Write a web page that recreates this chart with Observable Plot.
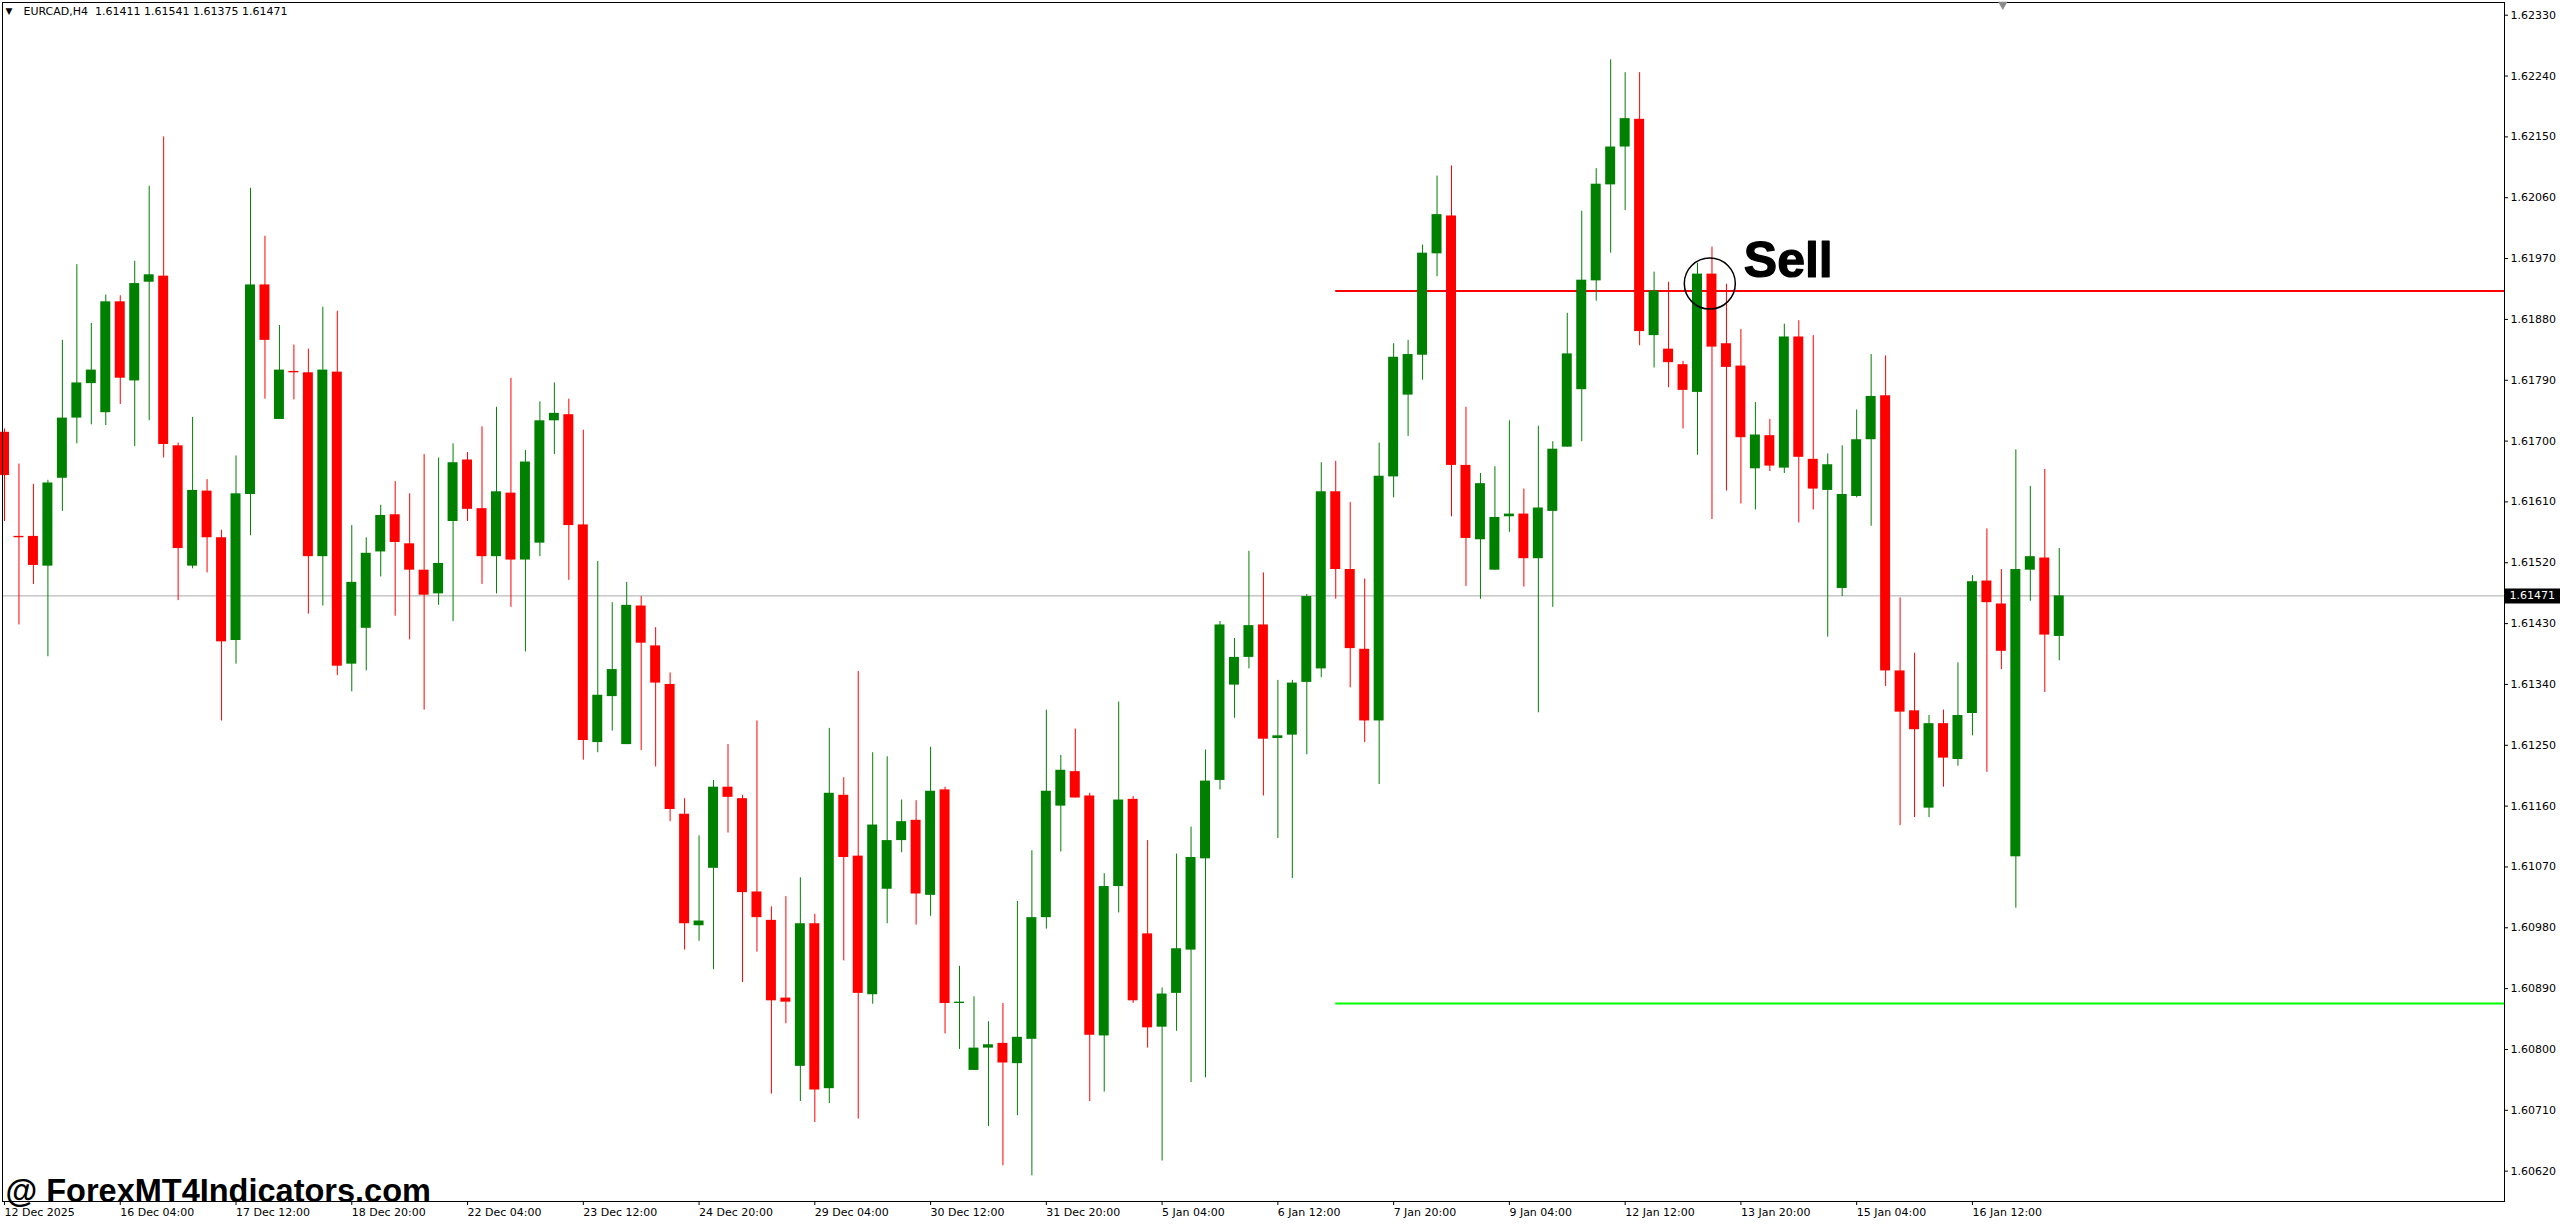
<!DOCTYPE html>
<html>
<head>
<meta charset="utf-8">
<script src="https://cdn.jsdelivr.net/npm/d3@7"></script>
<script src="https://cdn.jsdelivr.net/npm/@observablehq/plot@0.6"></script>
<style>
  html, body { margin: 0; padding: 0; background: #ffffff; }
  #chart svg { display: block; }
</style>
</head>
<body>
<div id="chart"></div>
<script>
// ---------- data ----------
const opens = [
  1.61713,1.61559,1.61559,1.61515,1.61645,1.61734,1.61785,1.61742,1.61906,1.61789,
  1.61935,1.61944,1.61693,1.61515,1.61626,1.61557,1.61405,1.61621,1.61931,1.61732,
  1.61803,1.61801,1.61529,1.61802,1.61370,1.61423,1.61536,1.61591,1.61548,1.61509,
  1.61474,1.61581,1.61672,1.61600,1.61529,1.61623,1.61524,1.61549,1.61730,1.61739,
  1.61576,1.61254,1.61322,1.61251,1.61456,1.61397,1.61340,1.61148,1.60983,1.61068,
  1.61188,1.61171,1.61033,1.60991,1.60876,1.60775,1.60986,1.60742,1.61176,1.61086,
  1.60881,1.61037,1.61109,1.61139,1.61028,1.61184,1.60868,1.60769,1.60802,1.60809,
  1.60779,1.60815,1.60995,1.61160,1.61211,1.61175,1.60820,1.61041,1.61170,1.60971,
  1.60833,1.60883,1.60947,1.61082,1.61198,1.61339,1.61380,1.61428,1.61260,1.61265,
  1.61343,1.61363,1.61625,1.61510,1.61392,1.61286,1.61647,1.61768,1.61827,1.61977,
  1.62033,1.61664,1.61554,1.61509,1.61588,1.61592,1.61526,1.61596,1.61691,1.61776,
  1.61937,1.62079,1.62135,1.62176,1.61856,1.61836,1.61813,1.61772,1.61947,1.61844,
  1.61811,1.61659,1.61708,1.61660,1.61854,1.61673,1.61627,1.61482,1.61618,1.61702,
  1.61767,1.61360,1.61301,1.61157,1.61282,1.61229,1.61297,1.61493,1.61459,1.61085,
  1.61509,1.61527,1.61411
];
const highs = [
  1.61718,1.61666,1.61636,1.61642,1.61849,1.61961,1.61874,1.61916,1.61915,1.61966,
  1.62077,1.62150,1.61697,1.61735,1.61643,1.61568,1.61678,1.62074,1.62003,1.61871,
  1.61842,1.61836,1.61898,1.61892,1.61575,1.61557,1.61605,1.61640,1.61622,1.61680,
  1.61675,1.61696,1.61683,1.61721,1.61750,1.61793,1.61686,1.61758,1.61786,1.61762,
  1.61716,1.61522,1.61461,1.61491,1.61470,1.61424,1.61357,1.61171,1.61116,1.61198,
  1.61251,1.61176,1.61286,1.61011,1.61026,1.61054,1.61000,1.61275,1.61202,1.61359,
  1.61239,1.61233,1.61169,1.61168,1.61247,1.61188,1.60923,1.60878,1.60841,1.60868,
  1.61019,1.61094,1.61302,1.61235,1.61274,1.61179,1.61060,1.61314,1.61174,1.61109,
  1.60891,1.61089,1.61129,1.61243,1.61433,1.61408,1.61537,1.61505,1.61346,1.61346,
  1.61473,1.61668,1.61670,1.61609,1.61496,1.61697,1.61844,1.61849,1.61990,1.62092,
  1.62107,1.61750,1.61652,1.61662,1.61730,1.61629,1.61722,1.61699,1.61889,1.62040,
  1.62103,1.62264,1.62245,1.62245,1.61950,1.61935,1.61818,1.61963,1.61987,1.61932,
  1.61865,1.61757,1.61732,1.61873,1.61878,1.61856,1.61681,1.61693,1.61746,1.61828,
  1.61826,1.61468,1.61386,1.61294,1.61302,1.61372,1.61501,1.61570,1.61510,1.61687,
  1.61633,1.61658,1.61541
];
const lows = [
  1.61581,1.61428,1.61488,1.61381,1.61596,1.61696,1.61724,1.61723,1.61754,1.61692,
  1.61730,1.61675,1.61464,1.61511,1.61505,1.61286,1.61370,1.61560,1.61762,1.61732,
  1.61761,1.61444,1.61456,1.61353,1.61329,1.61360,1.61499,1.61441,1.61406,1.61302,
  1.61457,1.61433,1.61581,1.61488,1.61474,1.61454,1.61388,1.61529,1.61680,1.61494,
  1.61228,1.61239,1.61271,1.61251,1.61242,1.61218,1.61137,1.60947,1.60960,1.60918,
  1.61120,1.60899,1.60944,1.60734,1.60838,1.60723,1.60692,1.60720,1.60931,1.60697,
  1.60867,1.60986,1.61091,1.60984,1.60997,1.60823,1.60800,1.60769,1.60686,1.60628,
  1.60702,1.60613,1.60978,1.61092,1.61172,1.60723,1.60737,1.61002,1.60868,1.60802,
  1.60635,1.60827,1.60751,1.60758,1.61184,1.61290,1.61363,1.61175,1.61112,1.61053,
  1.61236,1.61350,1.61466,1.61335,1.61254,1.61192,1.61616,1.61707,1.61790,1.61943,
  1.61588,1.61485,1.61466,1.61509,1.61565,1.61484,1.61298,1.61454,1.61691,1.61699,
  1.61907,1.61978,1.62041,1.61841,1.61808,1.61779,1.61718,1.61679,1.61584,1.61626,
  1.61607,1.61598,1.61655,1.61652,1.61579,1.61598,1.61410,1.61470,1.61616,1.61574,
  1.61337,1.61131,1.61143,1.61143,1.61188,1.61219,1.61264,1.61210,1.61362,1.61009,
  1.61463,1.61328,1.61375
];
const closes = [
  1.61649,1.61557,1.61516,1.61638,1.61734,1.61786,1.61805,1.61906,1.61793,1.61933,
  1.61946,1.61695,1.61541,1.61627,1.61557,1.61403,1.61622,1.61931,1.61849,1.61805,
  1.61801,1.61529,1.61805,1.61367,1.61491,1.61534,1.61590,1.61550,1.61509,1.61472,
  1.61519,1.61668,1.61599,1.61529,1.61625,1.61524,1.61669,1.61730,1.61741,1.61575,
  1.61257,1.61324,1.61362,1.61457,1.61401,1.61342,1.61155,1.60986,1.60990,1.61188,
  1.61173,1.61032,1.60995,1.60872,1.60870,1.60986,1.60740,1.61179,1.61084,1.60883,
  1.61132,1.61109,1.61137,1.61030,1.61182,1.60868,1.60870,1.60802,1.60807,1.60780,
  1.60818,1.60995,1.61182,1.61213,1.61172,1.60821,1.61041,1.61169,1.60872,1.60832,
  1.60882,1.60949,1.61084,1.61197,1.61428,1.61380,1.61427,1.61259,1.61264,1.61342,
  1.61470,1.61625,1.61510,1.61393,1.61286,1.61648,1.61824,1.61828,1.61978,1.62035,
  1.61664,1.61556,1.61637,1.61587,1.61592,1.61526,1.61601,1.61688,1.61829,1.61938,
  1.62080,1.62135,1.62177,1.61862,1.61922,1.61816,1.61775,1.61947,1.61839,1.61809,
  1.61705,1.61709,1.61663,1.61854,1.61676,1.61629,1.61665,1.61621,1.61702,1.61766,
  1.61360,1.61299,1.61273,1.61282,1.61231,1.61294,1.61492,1.61461,1.61389,1.61510,
  1.61529,1.61413,1.61471
];

const dateTickIndex = [0, 8, 16, 24, 32, 40, 48, 56, 64, 72, 80, 88, 96, 104, 112, 120, 128, 136];
const dateTickLabels = [
  "12 Dec 2025", "16 Dec 04:00", "17 Dec 12:00", "18 Dec 20:00", "22 Dec 04:00",
  "23 Dec 12:00", "24 Dec 20:00", "29 Dec 04:00", "30 Dec 12:00", "31 Dec 20:00",
  "5 Jan 04:00", "6 Jan 12:00", "7 Jan 20:00", "9 Jan 04:00", "12 Jan 12:00",
  "13 Jan 20:00", "15 Jan 04:00", "16 Jan 12:00"
];
const priceTicks = [
  1.62330, 1.62240, 1.62150, 1.62060, 1.61970, 1.61880, 1.61790, 1.61700, 1.61610, 1.61520,
  1.61430, 1.61340, 1.61250, 1.61160, 1.61070, 1.60980, 1.60890, 1.60800, 1.60710, 1.60620
];

const symbolName = "EURCAD,H4";
const lastBar = [1.61411, 1.61541, 1.61375, 1.61471]; // O H L C
const currentPrice = 1.61471;
const sellLevel = 1.61922;
const targetLevel = 1.60868;
const levelStartIndex = 92;
const signalIndex = 117.85;
const signalPrice = 1.61933;
const sellLabelIndex = 120.2;
const sellLabelPrice = 1.61943;
const sellLabel = "Sell";
const shiftMarkerIndex = 138.1;
const watermark = "@ ForexMT4Indicators.com";

// visible window of the chart (bar index / price)
const xDomain = [-0.138, 172.77];
const yDomain = [1.605751, 1.623488];

// ---------- build ----------
const GREEN = "#008000";
const RED = "#ff0000";
const candles = opens.map((o, i) => ({
  i, o, h: highs[i], l: lows[i], c: closes[i], up: closes[i] >= o
}));
const tickLabel = new Map(dateTickIndex.map((d, k) => [d, dateTickLabels[k]]));
const levels = [
  {y: sellLevel, x1: levelStartIndex, x2: xDomain[1], color: RED},
  {y: targetLevel, x1: levelStartIndex, x2: xDomain[1], color: "#00ff00"}
];
const headerText = symbolName + "  " + lastBar.map(v => v.toFixed(5)).join(" ");
const HALF = 0.345;

const chart = Plot.plot({
  width: 2560,
  height: 1224,
  marginLeft: 2,
  marginRight: 56,
  marginTop: 2,
  marginBottom: 23,
  style: {fontFamily: "'DejaVu Sans', sans-serif", fontSize: "11px", color: "black", background: "white"},
  x: {type: "linear", domain: xDomain},
  y: {type: "linear", domain: yDomain},
  marks: [
    // current bid line
    Plot.ruleY([currentPrice], {stroke: "#a9a9a9", strokeWidth: 1}),
    // signal levels
    Plot.ruleY(levels, {y: "y", x1: "x1", x2: "x2", stroke: "color", strokeWidth: 2}),
    // wicks
    Plot.ruleX(candles, {x: "i", y1: "l", y2: "h", stroke: d => d.up ? GREEN : RED, strokeWidth: 1}),
    // bodies
    Plot.rect(candles, {
      x1: d => d.i - HALF, x2: d => d.i + HALF,
      y1: "o", y2: "c",
      fill: d => d.up ? GREEN : RED
    }),
    // axes
    Plot.axisY({
      anchor: "right", ticks: priceTicks, tickFormat: d => d.toFixed(5),
      tickSize: 3, tickPadding: 3, label: null, fontSize: 11
    }),
    Plot.axisX({
      anchor: "bottom", ticks: dateTickIndex, tickFormat: d => tickLabel.get(d),
      tickSize: 4, tickPadding: 3, textAnchor: "start", dx: 0, label: null, fontSize: 11
    }),
    Plot.frame({stroke: "black", strokeWidth: 1}),
    // current price label on the axis
    Plot.ruleY([currentPrice], {
      x1: () => xDomain[1], x2: () => xDomain[1], insetRight: -56,
      stroke: "black", strokeWidth: 15
    }),
    Plot.text([currentPrice], {
      y: d => d, frameAnchor: "right", dx: 5, text: d => d.toFixed(5),
      textAnchor: "start", fill: "white", fontSize: 11
    }),
    // header
    Plot.text(["\u25BC"], {frameAnchor: "top-left", dx: 3, dy: 5, lineAnchor: "top", fontSize: 9, fill: "black"}),
    Plot.text([headerText], {frameAnchor: "top-left", dx: 21, dy: 5, lineAnchor: "top", textAnchor: "start", fontSize: 11, fill: "black"}),
    // chart shift marker
    Plot.dot([shiftMarkerIndex], {
      x: d => d, frameAnchor: "top", dy: 2, symbol: "triangle", rotate: 180, r: 3.5,
      fill: "#8c8c8c", stroke: "none"
    }),
    // signal annotation
    Plot.dot([{x: signalIndex, y: signalPrice}], {x: "x", y: "y", r: 25.5, stroke: "black", strokeWidth: 1.5, fill: "none"}),
    Plot.text([{x: sellLabelIndex, y: sellLabelPrice}], {
      x: "x", y: "y", text: () => sellLabel, textAnchor: "start", lineAnchor: "bottom",
      fontSize: 50, fontWeight: "bold", fontFamily: "'Liberation Sans', Arial, sans-serif",
      fill: "black", stroke: "black", strokeWidth: 1.2, style: "letter-spacing:2px"
    }),
    // watermark
    Plot.text([watermark], {
      frameAnchor: "bottom-left", dx: 3, dy: 0, lineAnchor: "bottom", textAnchor: "start",
      fontSize: 32.5, fontWeight: "bold", fontFamily: "'Liberation Sans', Arial, sans-serif", fill: "black"
    })
  ]
});
document.getElementById("chart").appendChild(chart);
</script>
</body>
</html>
